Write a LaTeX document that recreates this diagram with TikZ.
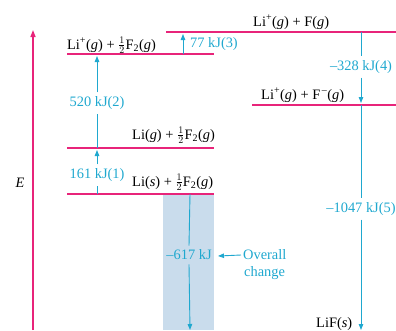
\documentclass[tikz,border=0pt]{standalone}
\usepackage{fontspec}
\setmainfont{Liberation Serif}
\usetikzlibrary{arrows.meta}
\definecolor{lvl}{HTML}{E8247A}
\definecolor{arr}{HTML}{1FA8CF}
\definecolor{bandcol}{HTML}{C9DCEC}
\newcommand{\hf}{\ensuremath{\frac{1}{2}}}
\newcommand{\ig}{\textit{g}}
\begin{document}
\begin{tikzpicture}[x=1pt,y=-1pt,font=\fontsize{14.4}{16}\selectfont,
  level/.style={draw=lvl,line width=2.4pt},
  conn/.style={draw=arr,line width=0.9pt},
  tip/.style={-{Triangle[length=6pt,width=4.5pt]}},
  lab/.style={text=arr,inner sep=4pt},
  st/.style={inner sep=0pt,anchor=base west}]
\useasboundingbox (0,0) rectangle (396,330);
% shaded overall band
\fill[bandcol] (163,194) rectangle (214,330);
% energy axis
\coordinate (e0) at (33,330);
\coordinate (e1) at (33,30);
\draw[draw=lvl,line width=1.5pt,-{Triangle[length=7pt,width=5pt]}] (e0) -- (e1);
\node (E) at (20,183) {\textit{E}};
% levels
\draw[level] (67,54) coordinate (L2a) -- (214,54) coordinate (L2b);
\draw[level] (166,32) coordinate (L3a) -- (396,32) coordinate (L3b);
\draw[level] (252,105) coordinate (L4a) -- (396,105) coordinate (L4b);
\draw[level] (67,148) coordinate (L1a) -- (214,148) coordinate (L1b);
\draw[level] (67,194) coordinate (L0a) -- (214,194) coordinate (L0b);
% state labels
\node[st] (s2) at (67,49) {Li\textsuperscript{+}(\ig) + \hf F\textsubscript{2}(\ig)};
\node[st] (s3) at (253,26) {Li\textsuperscript{+}(\ig) + F(\ig)};
\node[st] (s4) at (261,99) {Li\textsuperscript{+}(\ig) + F\textsuperscript{\,--}(\ig)};
\node[st] (s1) at (132,139) {Li(\ig) + \hf F\textsubscript{2}(\ig)};
\node[st] (s0) at (132,186) {Li(\textit{s}) + \hf F\textsubscript{2}(\ig)};
\node[st] (s5) at (316,327) {LiF(\textit{s})};
% step 1
\coordinate (a1b) at (97,194); \coordinate (a1t) at (97,150);
\node[lab] (l1) at (97,175) {161 kJ(1)};
\draw[conn] (a1b) -- (l1.south);
\draw[conn,tip] (l1.north) -- (a1t);
% step 2
\coordinate (a2b) at (97,148); \coordinate (a2t) at (97,56);
\node[lab] (l2) at (97,103) {520 kJ(2)};
\draw[conn] (a2b) -- (l2.south);
\draw[conn,tip] (l2.north) -- (a2t);
% step 3
\coordinate (a3b) at (183,54); \coordinate (a3t) at (183,34);
\draw[conn,tip] (a3b) -- (a3t);
\node[text=arr,anchor=west,inner sep=0pt] (l3) at (190,44) {77 kJ(3)};
% step 4
\coordinate (a4t) at (361,32); \coordinate (a4b) at (361,103);
\node[lab] (l4) at (361,67) {–328 kJ(4)};
\draw[conn] (a4t) -- (l4.north);
\draw[conn,tip] (l4.south) -- (a4b);
% step 5
\coordinate (a5t) at (361,105); \coordinate (a5b) at (361,330);
\node[lab] (l5) at (361,209) {–1047 kJ(5)};
\draw[conn] (a5t) -- (l5.north);
\draw[conn,tip] (l5.south) -- (a5b);
% overall
\coordinate (a6t) at (190,194); \coordinate (a6b) at (190,330);
\node[lab] (l6) at (189,255) {–617 kJ};
\draw[conn] (a6t) -- (l6.north);
\draw[conn,tip] (l6.south) -- (a6b);
\node[text=arr,anchor=west,inner sep=2pt] (ov) at (241,255) {Overall};
\node[text=arr,anchor=west,inner sep=2pt] (ch) at (242,273) {change};
\coordinate (ob) at (218,256);
\draw[conn,tip] (ov.west) -- (ob);
\end{tikzpicture}
\end{document}
